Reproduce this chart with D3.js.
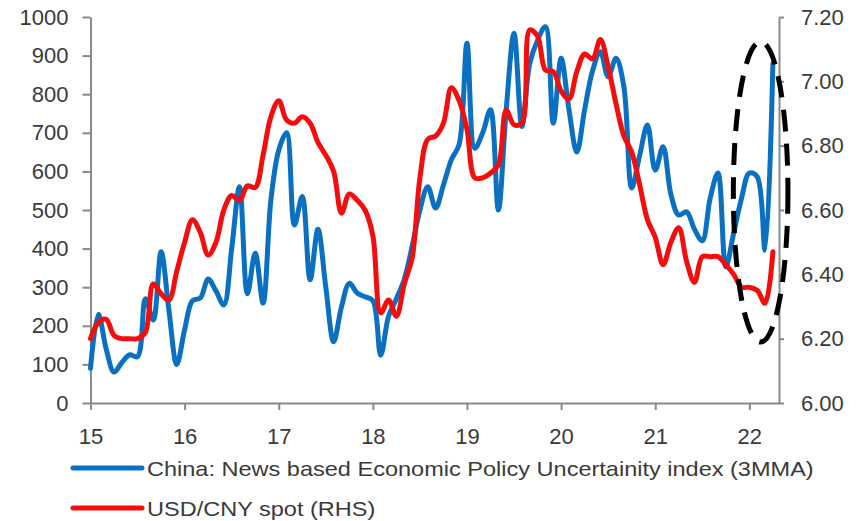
<!DOCTYPE html>
<html>
<head>
<meta charset="utf-8">
<script src="https://cdn.jsdelivr.net/npm/d3@7"></script>
<style>
  html, body { margin: 0; padding: 0; background: #fff; }
  svg { display: block; font-family: "Liberation Sans", Arial, sans-serif; }
</style>
</head>
<body>
<svg id="chart" width="863" height="521"></svg>
<script>
// ---- data (monthly, Jan 2015 .. Apr 2022) ----
const startYear = 15;
const epuIndex = [
  90, 230, 140, 80, 105, 125, 120, 270, 215, 392, 240, 100,
  190, 265, 272, 321, 290, 254, 400, 560, 283, 388, 259, 526,
  655, 700, 461, 535, 319, 450, 300, 159, 249, 310, 285, 275,
  265, 124, 225, 270, 320, 405, 500, 560, 505, 565, 630, 670,
  932, 660, 700, 760, 500, 760, 958, 716, 880, 940, 975, 725,
  893, 760, 650, 760, 860, 910, 845, 893, 820, 557, 640, 720,
  603, 664, 540, 487, 495, 450, 420, 530, 596, 353, 440, 530,
  596, 586, 396, 880
];
const usdCny = [
  6.20, 6.25, 6.26, 6.21, 6.20, 6.20, 6.20, 6.22, 6.37, 6.34, 6.32, 6.41,
  6.50, 6.57, 6.53, 6.46, 6.50, 6.60, 6.645, 6.63, 6.675, 6.67, 6.77, 6.89,
  6.94, 6.88, 6.87, 6.89, 6.87, 6.81, 6.77, 6.72, 6.59, 6.65, 6.63, 6.60,
  6.52, 6.28, 6.32, 6.27, 6.37, 6.45, 6.70, 6.82, 6.83, 6.87, 6.98, 6.94,
  6.85, 6.70, 6.70, 6.715, 6.74, 6.91, 6.865, 6.87, 7.16, 7.14, 7.035, 7.03,
  6.97, 6.945, 7.03, 7.085, 7.07, 7.13, 7.045, 6.93, 6.83, 6.78, 6.68, 6.57,
  6.515, 6.43, 6.50, 6.545, 6.44, 6.375, 6.455, 6.455, 6.455, 6.43, 6.40, 6.36,
  6.36, 6.35, 6.31, 6.47
];
const xTicks = [15, 16, 17, 18, 19, 20, 21, 22];
const leftTicks = [0, 100, 200, 300, 400, 500, 600, 700, 800, 900, 1000];
const rightTicks = [6.00, 6.20, 6.40, 6.60, 6.80, 7.00, 7.20];
const seriesNames = [
  "China: News based Economic Policy Uncertainity index (3MMA)",
  "USD/CNY spot (RHS)"
];
// highlight ellipse in data units (centre year / left-axis value, radii)
const highlight = { x: 22.12, y: 547, rx: 0.29, ry: 389 };

// ---- layout ----
const svg = d3.select("#chart");
const plotL = 90.5, plotR = 779, plotT = 17, plotB = 403;
const blue = "#0a70c2", red = "#f50d0d", axisCol = "#8a8a8a", textCol = "#3a3a3a";

const x = d3.scaleLinear().domain([15, 22.315]).range([plotL, plotR]);
const yL = d3.scaleLinear().domain([0, 1000]).range([plotB, plotT]);
const yR = d3.scaleLinear().domain([6, 7.2]).range([plotB, plotT]);

const monthX = i => startYear + i / 12;

// axes
const axL = svg.append("g").attr("transform", `translate(${plotL},0)`)
  .call(d3.axisLeft(yL).tickValues(leftTicks).tickSize(8).tickPadding(14)
    .tickFormat(d3.format("d")).tickSizeOuter(0));
const axR = svg.append("g").attr("transform", `translate(${plotR},0)`)
  .call(d3.axisRight(yR).tickValues(rightTicks).tickSize(5).tickPadding(17)
    .tickFormat(d3.format(".2f")).tickSizeOuter(0));
const axB = svg.append("g").attr("transform", `translate(0,${plotB})`)
  .call(d3.axisBottom(x).tickValues(xTicks).tickSize(7).tickPadding(18)
    .tickFormat(d3.format("d")).tickSizeOuter(0));

[axL, axR, axB].forEach(g => {
  g.select(".domain").attr("stroke", axisCol).attr("stroke-width", 2);
  g.selectAll(".tick line").attr("stroke", axisCol).attr("stroke-width", 2);
  g.selectAll(".tick text").attr("fill", textCol)
    .style("font-size", "22px").style("font-family", "'Liberation Sans', Arial, sans-serif");
});

// lines
const curve = d3.curveCatmullRom.alpha(0.5);
const lineL = d3.line().x((d, i) => x(monthX(i))).y(d => yL(d)).curve(curve);
const lineR = d3.line().x((d, i) => x(monthX(i))).y(d => yR(d)).curve(curve);

svg.append("path").datum(epuIndex).attr("d", lineL)
  .attr("fill", "none").attr("stroke", blue).attr("stroke-width", 5)
  .attr("stroke-linejoin", "round").attr("stroke-linecap", "round");
svg.append("path").datum(usdCny).attr("d", lineR)
  .attr("fill", "none").attr("stroke", red).attr("stroke-width", 5)
  .attr("stroke-linejoin", "round").attr("stroke-linecap", "round");

// highlight ellipse
svg.append("ellipse")
  .attr("cx", x(highlight.x)).attr("cy", yL(highlight.y))
  .attr("rx", x(highlight.x + highlight.rx) - x(highlight.x))
  .attr("ry", yL(0) - yL(highlight.ry))
  .attr("fill", "none").attr("stroke", "#000").attr("stroke-width", 5)
  .attr("stroke-dasharray", "22 12");

// legend
const legend = svg.append("g");
const legColors = [blue, red];
const legY = [468, 508];
seriesNames.forEach((name, i) => {
  legend.append("line").attr("x1", 73).attr("x2", 142)
    .attr("y1", legY[i]).attr("y2", legY[i])
    .attr("stroke", legColors[i]).attr("stroke-width", 5).attr("stroke-linecap", "round");
  const t = legend.append("text").attr("x", 147).attr("y", legY[i] + 8)
    .attr("fill", textCol).style("font-size", "21px").text(name);
  const w = t.node().getComputedTextLength();
  t.attr("textLength", w * 1.12).attr("lengthAdjust", "spacingAndGlyphs");
});
</script>
</body>
</html>
